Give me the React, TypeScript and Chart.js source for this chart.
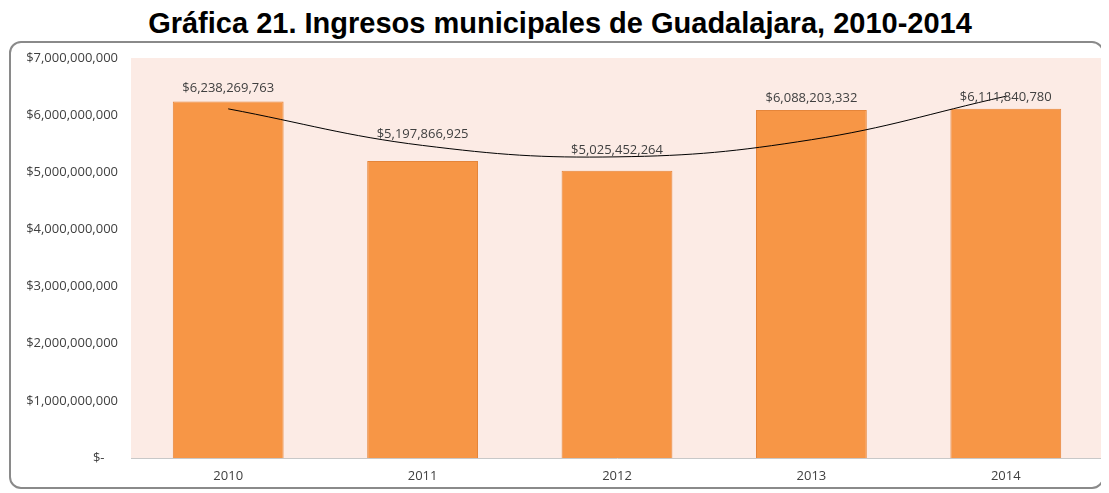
import React, { useEffect, useRef } from "react";
import { Chart, registerables } from "chart.js";

Chart.register(...registerables);

const categories = ["2010", "2011", "2012", "2013", "2014"];
const ingresos = [6238269763, 5197866925, 5025452264, 6088203332, 6111840780];
// polynomial trend line
const tendencia = [6110000000, 5470000000, 5270000000, 5570000000, 6330000000];
const yTicks = [0, 1000000000, 2000000000, 3000000000, 4000000000, 5000000000, 6000000000, 7000000000];
// gap (px) between bar top and its value label, as placed in the original
const labelGap = [10, 23, 17, 8, 8];

const FONT = "'Open Sans', 'Noto Sans', sans-serif";

function fmt(v: number): string {
  if (v === 0) return "$-    ";
  return "$" + v.toLocaleString("en-US");
}

const bgPlugin = {
  id: "plotBg",
  beforeDraw(chart: any) {
    const { ctx, chartArea } = chart;
    ctx.save();
    ctx.fillStyle = "#fcebe5";
    ctx.fillRect(chartArea.left, chartArea.top, chartArea.right - chartArea.left, chartArea.bottom - chartArea.top);
    ctx.restore();
  },
};

const labelPlugin = {
  id: "barLabels",
  afterDatasetsDraw(chart: any) {
    const { ctx } = chart;
    const meta = chart.getDatasetMeta(1);
    ctx.save();
    ctx.font = `13px ${FONT}`;
    ctx.fillStyle = "#404040";
    ctx.textAlign = "center";
    ctx.textBaseline = "alphabetic";
    meta.data.forEach((el: any, i: number) => {
      ctx.fillText(fmt(ingresos[i]), el.x, el.y - labelGap[i]);
    });
    ctx.restore();
  },
};

export default function App() {
  const ref = useRef<HTMLCanvasElement | null>(null);
  useEffect(() => {
    if (!ref.current) return;
    const chart = new Chart(ref.current, {
      type: "bar",
      data: {
        labels: categories,
        datasets: [
          {
            type: "line",
            data: tendencia,
            borderColor: "#000000",
            borderWidth: 1,
            pointRadius: 0,
            tension: 0.4,
            fill: false,
            order: 0,
          } as any,
          {
            type: "bar",
            data: ingresos,
            backgroundColor: "#f79646",
            borderColor: "#e5853a",
            borderWidth: 1,
            barPercentage: 0.57,
            categoryPercentage: 1,
            order: 1,
          },
        ],
      },
      options: {
        animation: false,
        responsive: false,
        maintainAspectRatio: false,
        layout: { padding: { top: 16, right: 2, left: 0, bottom: 0 } },
        plugins: { legend: { display: false }, tooltip: { enabled: false }, title: { display: false } },
        scales: {
          x: {
            grid: { display: false, drawTicks: false },
            border: { display: true, color: "#c8c8c8", width: 1 },
            ticks: { color: "#404040", font: { family: FONT, size: 13 }, padding: 10 },
            afterFit: (s: any) => { s.height = 32; s.paddingLeft = 0; s.paddingRight = 0; },
          },
          y: {
            min: 0,
            max: 7000000000,
            grid: { display: false, drawTicks: false },
            border: { display: false },
            afterBuildTicks: (s: any) => { s.ticks = yTicks.map((v) => ({ value: v })); },
            ticks: {
              color: "#404040",
              font: { family: FONT, size: 13 },
              padding: 13,
              callback: (v: any) => fmt(Number(v)),
            },
            afterFit: (s: any) => { s.width = 121; s.paddingTop = 0; s.paddingBottom = 0; },
          },
        },
      },
      plugins: [bgPlugin, labelPlugin],
    });
    return () => chart.destroy();
  }, []);

  return (
    <div style={{ position: "relative", width: 1093, height: 485 }}>
      <div
        style={{
          position: "absolute",
          left: 0,
          top: -1,
          width: 1104,
          textAlign: "center",
          fontFamily: "'Liberation Sans', Arial, sans-serif",
          fontWeight: "bold",
          fontSize: 29,
          lineHeight: "32px",
          color: "#000",
        }}
      >
        Gráfica 21. Ingresos municipales de Guadalajara, 2010-2014
      </div>
      <div
        style={{
          position: "absolute",
          left: 1,
          top: 33,
          width: 1095,
          height: 448,
          border: "2px solid #8a8a8a",
          borderRadius: 12,
          boxSizing: "border-box",
          background: "#ffffff",
        }}
      />
      <canvas ref={ref} width={1095} height={448} style={{ position: "absolute", left: 2, top: 34, width: 1095, height: 448 }} />
    </div>
  );
}
